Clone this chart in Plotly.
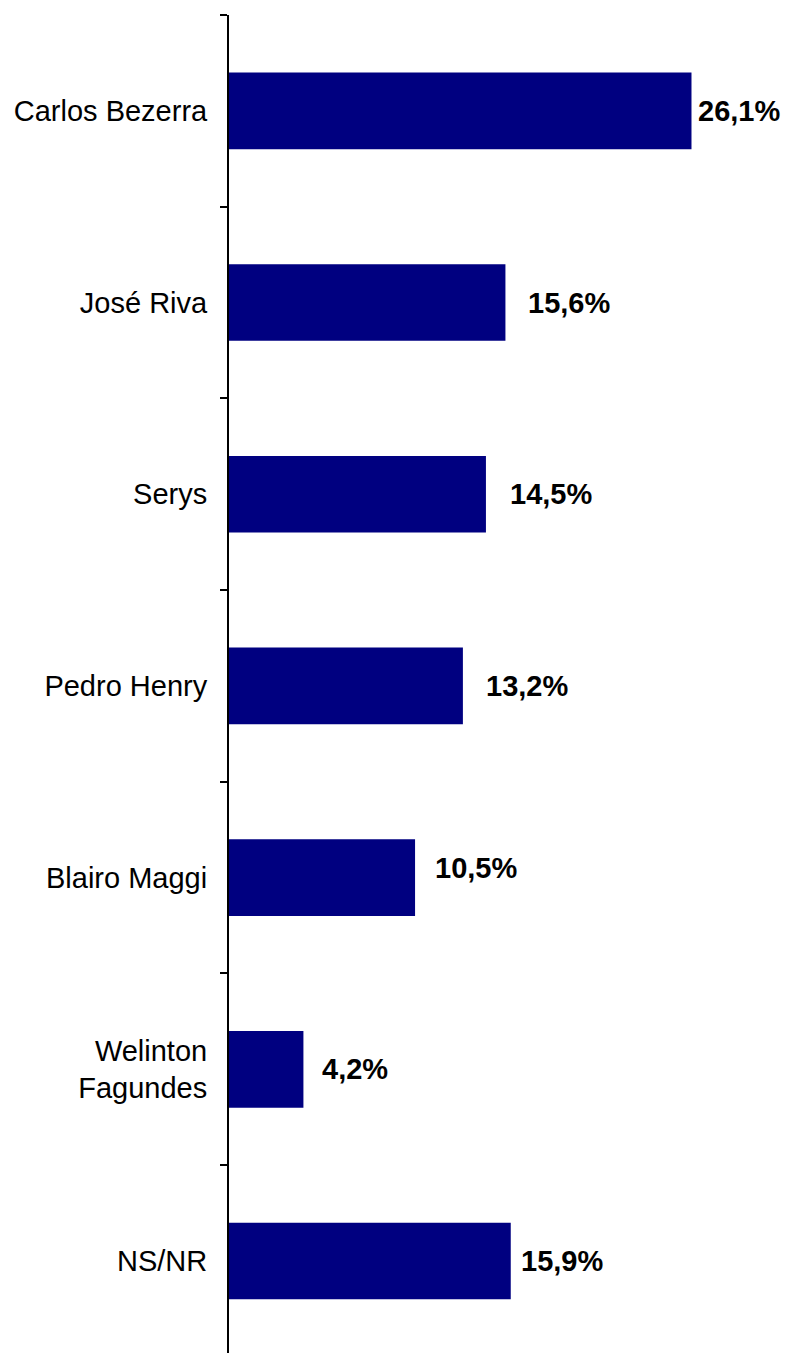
import plotly.graph_objects as go

categories = ["Carlos Bezerra", "José Riva", "Serys", "Pedro Henry",
              "Blairo Maggi", "Welinton<br>Fagundes", "NS/NR"]
values = [26.1, 15.6, 14.5, 13.2, 10.5, 4.2, 15.9]

# label placement tweaks (pixels), as in the original hand-placed labels
label_xshift = [5, 21, 22, 21, 18, 17, 8]
label_yshift = [0, 0, 0, 0, 10, 0, 0]

FONT = "Liberation Sans, Arial, sans-serif"

fig = go.Figure()
fig.add_trace(go.Bar(
    y=categories, x=values, orientation="h",
    marker=dict(color="#000080", line=dict(width=0)),
    width=0.4, hoverinfo="skip",
))

for c, v, dx, dy in zip(categories, values, label_xshift, label_yshift):
    fig.add_annotation(
        x=v, y=c, xref="x", yref="y",
        text=f"<b>{v:.1f}".replace(".", ",") + "%</b>",
        showarrow=False, xanchor="left", yanchor="middle",
        xshift=dx, yshift=dy,
        font=dict(family=FONT, size=29, color="black"),
    )

fig.update_layout(
    width=787, height=1353,
    margin=dict(l=229, r=0, t=15, b=0, autoexpand=False),
    paper_bgcolor="white", plot_bgcolor="white",
    showlegend=False,
    font=dict(family=FONT, size=29, color="black"),
    xaxis=dict(range=[0, 31.49], visible=False, showgrid=False,
               zeroline=False, automargin=False),
    yaxis=dict(
        type="category",
        categoryorder="array", categoryarray=categories,
        range=[6.48, -0.5],
        automargin=False,
        showline=True, linecolor="black", linewidth=2,
        ticks="outside", ticklen=7, tickwidth=2, tickcolor="black",
        tickson="boundaries",
        showgrid=False, zeroline=False,
        ticklabelstandoff=14,
        tickfont=dict(family=FONT, size=29, color="black"),
    ),
)

fig.write_html(
    "out.html",
    config={"displayModeBar": False},
    post_script="document.body.style.margin='0';document.body.style.overflow='hidden';",
)
